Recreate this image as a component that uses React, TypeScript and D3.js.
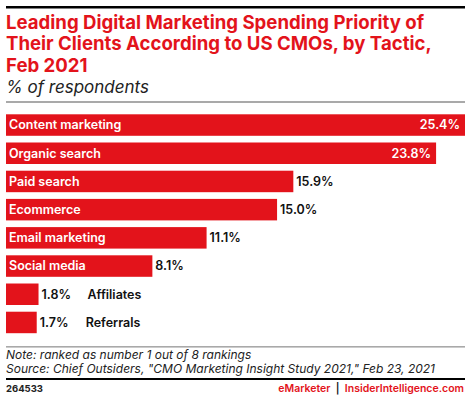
import React from "react";
import * as d3 from "d3";

const categories = ["Content marketing", "Organic search", "Paid search", "Ecommerce", "Email marketing", "Social media", "Affiliates", "Referrals"];
const values = [25.4, 23.8, 15.9, 15.0, 11.1, 8.1, 1.8, 1.7];
const titleLines = ["Leading Digital Marketing Spending Priority of", "Their Clients According to US CMOs, by Tactic,", "Feb 2021"];
const subtitle = "% of respondents";
const notes = ["Note: ranked as number 1 out of 8 rankings", "Source: Chief Outsiders, \"CMO Marketing Insight Study 2021,\" Feb 23, 2021"];
const chartId = "264533";

const RED = "#E3131B";
const FONT = "Inter, 'Noto Sans', sans-serif";

export default function App() {
  const W = 470, H = 399;
  const x = d3.scaleLinear().domain([0, 25.4]).range([6, 465]);
  const y = d3.scaleBand<string>().domain(categories).range([114.3, 333.2]).paddingInner(0.238).paddingOuter(0);
  const bh = y.bandwidth();
  return (
    <svg width={W} height={H} style={{ position: "absolute", left: 0, top: 0, fontFamily: FONT }}>
      <rect x={0} y={0} width={W} height={H} fill="#fff" />
      <rect x={6} y={6} width={459} height={2.5} fill="#000" />
      {titleLines.map((t, i) => (
        <text key={i} x={6} y={29 + i * 21.3} fill={RED} fontSize={18.6} fontWeight={700}>{t}</text>
      ))}
      <text x={6} y={93} fontSize={17} fontStyle="italic" fill="#222">{subtitle}</text>
      <rect x={6} y={101.5} width={459} height={1} fill="#555" />
      {categories.map((c, i) => {
        const v = values[i];
        const x1 = x(v);
        const cy = (y(c) as number) + bh / 2;
        const inside = v > 20;
        const small = v < 5;
        const valStr = v.toFixed(1) + "%";
        return (
          <g key={c}>
            <rect x={x(0)} y={y(c)} width={x1 - x(0)} height={bh} fill={RED} />
            {!small && (
              <text x={9} y={cy} dy="0.35em" fill="#fff" fontSize={12.5} fontWeight={600}>{c}</text>
            )}
            {inside ? (
              <text x={x1 - 5} y={cy} dy="0.35em" fill="#fff" fontSize={12.5} fontWeight={600} textAnchor="end">{valStr}</text>
            ) : (
              <text x={x1 + 3} y={cy} dy="0.35em" fill="#111" fontSize={12.5} fontWeight={600}>{valStr}</text>
            )}
            {small && (
              <text x={x1 + 49} y={cy} dy="0.35em" fill="#111" fontSize={12.5} fontWeight={600}>{c}</text>
            )}
          </g>
        );
      })}
      <rect x={6} y={346.5} width={459} height={0.8} fill="#555" />
      {notes.map((n, i) => (
        <text key={i} x={6} y={359 + i * 14} fontSize={12} fontStyle="italic" fill="#222">{n}</text>
      ))}
      <rect x={6} y={378} width={459} height={2} fill="#000" />
      <text x={6} y={392} fontSize={9.5} fontWeight={700} fill="#222">{chartId}</text>
      <text x={464} y={392} fontSize={10.5} fontWeight={600} textAnchor="end">
        <tspan fill={RED}>eMarketer</tspan>
        <tspan fill="#222">{"\u00A0\u00A0|\u00A0\u00A0"}</tspan>
        <tspan fill={RED}>InsiderIntelligence.com</tspan>
      </text>
    </svg>
  );
}
